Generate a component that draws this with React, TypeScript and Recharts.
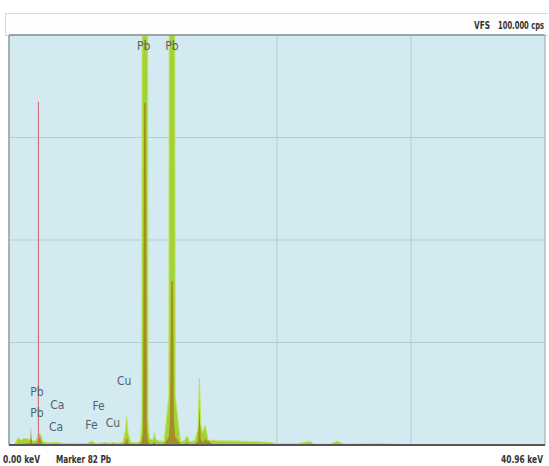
import React from 'react';
import {
  AreaChart,
  Area,
  XAxis,
  YAxis,
  CartesianGrid,
  ReferenceLine,
  ReferenceDot,
} from 'recharts';

// spectrum: energy (keV), counts in % of VFS
const energy = [
  0, 0.3, 0.5, 0.7, 0.9, 1.1, 1.3, 1.5, 1.6, 1.68, 1.76, 1.9, 2.1, 2.25, 2.35, 2.45, 2.6,
  3.0, 3.7, 4.0, 5.0, 6.0, 6.3, 6.6, 7.0, 7.4, 7.6, 8.0, 8.2, 8.7, 8.9, 9.0, 9.1, 9.3,
  9.8, 10.05, 10.15, 10.24, 10.33, 10.45, 10.54, 10.62, 10.73, 11.0, 11.1, 11.2, 11.4,
  11.85, 12.22, 12.3, 12.4, 12.52, 12.6, 12.7, 13.1, 13.4, 13.6, 13.8, 14.2, 14.45,
  14.55, 14.65, 14.8, 15.0, 15.1, 15.25, 15.5, 16.0, 17.0, 18.0, 19.0, 20.0, 20.5, 22.0,
  23.0, 23.3, 24.5, 25.1, 25.6, 28.35, 30.0, 40.96,
];
const sampleCounts = [
  0, 0, 0.5, 1.8, 1.2, 1.5, 1.6, 1.4, 1.2, 1.5, 1.0, 1.0, 1.2, 2.5, 2.9, 2.2, 0.8,
  0.5, 0.6, 0.4, 0.3, 0.4, 0.9, 0.4, 0.4, 0.6, 0.4, 0.6, 0.4, 0.6, 3.5, 6.8, 3.0, 0.6,
  0.5, 1, 6, 300, 300, 300, 300, 6, 1.5, 1.2, 2.9, 1.5, 1.0,
  0.8, 12, 300, 300, 300, 300, 12, 0.8, 1.0, 2.2, 0.8, 1.0, 4,
  16.3, 5, 3, 4.9, 3, 0.8, 1.2, 1.0, 1.0, 0.9, 0.8, 0.6, 0.3, 0.3,
  0.9, 0.2, 0.2, 0.9, 0.2, 0.3, 0.1, 0,
];
const markerCounts = [
  0, 0, 0.1, 0.3, 0.2, 0.3, 0.3, 0.4, 0.5, 4.4, 0.4, 0.3, 0.4, 1.2, 2.0, 0.8, 0.2,
  0.1, 0.2, 0.1, 0.1, 0.1, 0.2, 0.1, 0.1, 0.1, 0.1, 0.1, 0.1, 0.1, 0.6, 1.8, 0.5, 0.1,
  0.1, 0.2, 1, 3, 83.5, 83.5, 3, 1, 0.3, 0.2, 0.8, 0.2, 0.2,
  0.2, 2, 6, 40, 40, 6, 2, 0.2, 0.2, 0.5, 0.2, 0.2, 1.0,
  9, 1.5, 0.6, 1.5, 1.0, 1.2, 0.2, 0.2, 0.2, 0.2, 0.1, 0.1, 0.1, 0.05,
  0.2, 0.05, 0.05, 0.2, 0.05, 0.05, 0, 0,
];

const xTicks = [0, 10.24, 20.48, 30.72, 40.96];
const yTicks = [0, 25, 50, 75, 100];

const markerEnergy = 2.25;
const markerTop = 83.7;

const elementLabels = ['Pb', 'Pb', 'Ca', 'Ca', 'Fe', 'Fe', 'Cu', 'Cu', 'Pb', 'Pb'];
const labelEnergy = [2.14, 2.14, 3.7, 3.6, 6.85, 6.3, 7.95, 8.8, 10.3, 12.45];
const labelLevel = [12.9, 7.8, 9.8, 4.4, 9.5, 4.9, 5.4, 15.6, 97.3, 97.3];

const data = energy.map((e, i) => ({
  e,
  sample: sampleCounts[i],
  marker: markerCounts[i],
}));

// status bar texts, squeezed like the instrument's narrow font
function Squeezed({
  x,
  y,
  w,
  anchor = 'start',
  children,
}: {
  x: number;
  y: number;
  w: number;
  anchor?: 'start' | 'end';
  children: string;
}) {
  return (
    <text
      x={x}
      y={y}
      textLength={w}
      lengthAdjust="spacingAndGlyphs"
      textAnchor={anchor}
      fontFamily='"DejaVu Sans Condensed", sans-serif'
      fontWeight="bold"
      fontSize={11}
      fill="#333"
    >
      {children}
    </text>
  );
}

export default function App() {
  return (
    <div
      style={{
        position: 'absolute',
        left: 0,
        top: 0,
        width: 549,
        height: 466,
        background: '#fff',
      }}
    >
      <div
        style={{
          position: 'absolute',
          left: 5,
          top: 13,
          width: 542,
          height: 21,
          border: '1px solid #d8d8d8',
          borderRight: 'none',
          background: '#fdfdfd',
        }}
      />

      <div style={{ position: 'absolute', left: 0, top: 0 }}>
        <AreaChart
          width={549}
          height={466}
          data={data}
          margin={{ top: 35, right: 4, left: 9, bottom: 21 }}
        >
          <CartesianGrid fill="#d3eaf0" stroke="#b3cdd5" strokeWidth={1} />
          <XAxis
            dataKey="e"
            type="number"
            domain={[0, 40.96]}
            ticks={xTicks}
            hide
          />
          <YAxis domain={[0, 100]} ticks={yTicks} allowDataOverflow hide />
          <Area
            type="linear"
            dataKey="sample"
            stroke="#bde453"
            strokeWidth={1}
            fill="#a4d236"
            fillOpacity={1}
            isAnimationActive={false}
          />
          <Area
            type="linear"
            dataKey="marker"
            stroke="none"
            fill="#a8521c"
            fillOpacity={0.55}
            isAnimationActive={false}
          />
          <ReferenceLine
            segment={[
              { x: markerEnergy, y: 0 },
              { x: markerEnergy, y: markerTop },
            ]}
            stroke="#d9707a"
            strokeWidth={1.2}
          />
          <ReferenceLine y={100} stroke="#8a9094" strokeWidth={1.5} />
          <ReferenceLine x={0} stroke="#9aa0a4" strokeWidth={1.5} />
          <ReferenceLine x={40.96} stroke="#b0b6ba" strokeWidth={1} />
          <ReferenceLine y={0} stroke="#555" strokeWidth={2} />
          {elementLabels.map((t, i) => (
            <ReferenceDot
              key={i}
              x={labelEnergy[i]}
              y={labelLevel[i]}
              r={0}
              stroke="none"
              label={{
                value: t,
                position: 'center',
                fill: '#56606a',
                fontSize: 12,
                fontFamily: '"DejaVu Sans Condensed", sans-serif',
              }}
            />
          ))}
        </AreaChart>
      </div>

      <svg
        width={549}
        height={466}
        style={{ position: 'absolute', left: 0, top: 0, pointerEvents: 'none' }}
      >
        <Squeezed x={474} y={29} w={16}>VFS</Squeezed>
        <Squeezed x={544} y={29} w={46} anchor="end">100.000 cps</Squeezed>
        <Squeezed x={3} y={463} w={37}>0.00 keV</Squeezed>
        <Squeezed x={56} y={463} w={55}>Marker 82 Pb</Squeezed>
        <Squeezed x={543} y={463} w={42} anchor="end">40.96 keV</Squeezed>
      </svg>
    </div>
  );
}
